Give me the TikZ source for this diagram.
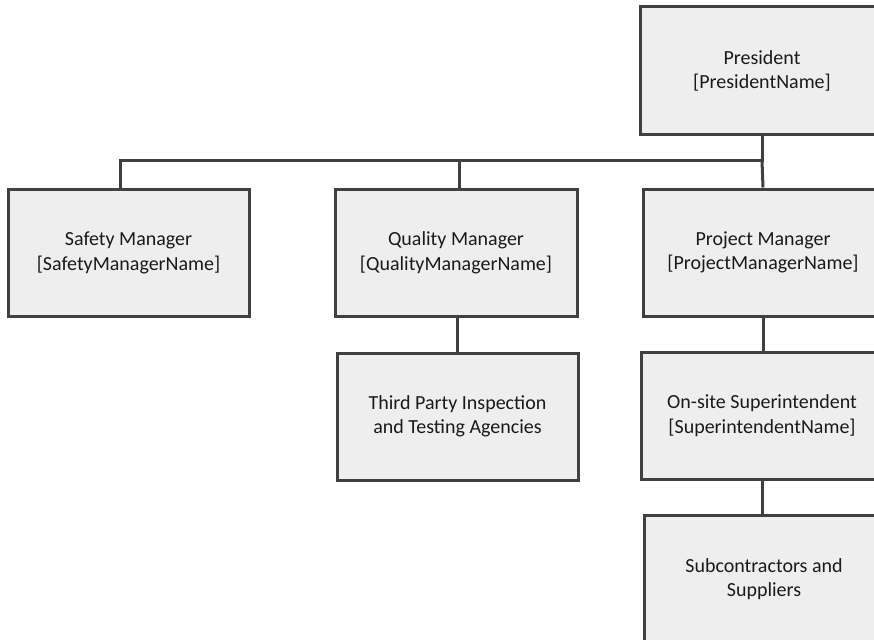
\documentclass[tikz,border=0pt]{standalone}
\usepackage{fontspec}
\setmainfont{Carlito}
\definecolor{boxfill}{HTML}{EEEEEE}
\definecolor{boxline}{HTML}{404040}
\definecolor{txt}{HTML}{1A1A1A}
\begin{document}
\begin{tikzpicture}[x=1pt,y=-1pt,
  orgbox/.style={draw=boxline,fill=boxfill,line width=3pt,rectangle,
    minimum width=#1,minimum height=127pt,inner sep=0pt,
    align=center,text=txt,font=\fontsize{20}{24.5}\selectfont},
  orgbox/.default=241pt,
  link/.style={draw=boxline,line width=3pt}]
\useasboundingbox (0,0) rectangle (874,639);
\clip (0,0) rectangle (874,639);
\coordinate (bus) at (0,161);
\node[orgbox=244pt,minimum height=128pt] (pres) at (762,71) {President\\{[}PresidentName{]}};
\node[orgbox] (safety) at (128.5,253) {Safety Manager\\{[}SafetyManagerName{]}};
\node[orgbox=242pt] (quality) at (456,253) {Quality Manager\\{[}QualityManagerName{]}};
\node[orgbox=240pt] (project) at (763,252.5) {Project Manager\\{[}ProjectManagerName{]}};
\node[orgbox] (third) at (457.5,416.5) {Third Party Inspection\\and Testing Agencies};
\node[orgbox=242pt] (super) at (762,415.5) {On-site Superintendent\\{[}SuperintendentName{]}};
\node[orgbox=240pt,minimum height=128pt] (sub) at (764,579) {Subcontractors and\\Suppliers};
\coordinate (sstem) at ([xshift=-8.5pt]safety.north);
\draw[link] (pres.south) -- (pres.south |- bus) -| (sstem);
\draw[link] (quality.north -| 459,0) -- (bus -| 459,0);
\draw[link] (pres.south |- bus) -- (project.north);
\draw[link] (quality.south -| third.north) -- (third.north);
\draw[link] (project.south) -- (super.north -| project.south);
\draw[link] (super.south) -- (sub.north -| super.south);
\end{tikzpicture}
\end{document}
